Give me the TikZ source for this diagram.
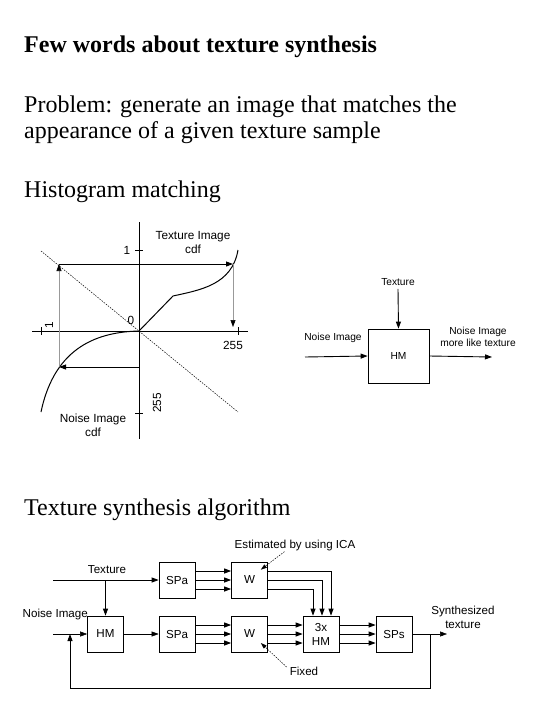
\documentclass[tikz,border=0pt]{standalone}
\usepackage{fontspec}
\setmainfont{Liberation Serif}
\newfontfamily\dgfont{Liberation Sans}
\usetikzlibrary{arrows.meta,positioning,calc}
\tikzset{
  heading/.style={anchor=base west, inner sep=0pt, font=\fontsize{24}{27}\selectfont},
  lbl/.style={inner sep=0pt, align=center, font=\dgfont\fontsize{11.6}{14}\selectfont},
  cdflbl/.style={lbl, font=\dgfont\fontsize{11.8}{14}\selectfont},
  hmlbl/.style={lbl, font=\dgfont\fontsize{10.2}{12}\selectfont},
  blk/.style={draw, line width=0.7pt, fill=white, minimum width=36pt,
    minimum height=36pt, inner sep=0pt, lbl},
  flow/.style={-{Triangle[length=7pt,width=5pt]}, line width=0.9pt},
  feed/.style={-{Triangle[length=7pt,width=5pt]}, line width=0.5pt},
  guide/.style={-{Triangle[length=7pt,width=5pt,color=black]}, draw=black!40, line width=0.6pt},
  hint/.style={-{Triangle[length=6pt,width=4pt]}, dash pattern=on 1.5pt off 1.2pt, line width=0.5pt},
  axis/.style={line width=0.7pt},
  cdf/.style={line width=1pt},
}
\begin{document}
\begin{tikzpicture}[x=1pt, y=-1pt]
  \useasboundingbox[fill=white] (0,0) rectangle (540,720);
  % headings
  \node[heading, font=\bfseries\fontsize{24}{27}\selectfont] (title) at (24,52) {Few words about texture synthesis};
  \node[heading] (prob1) at (24,112) {Problem: generate an image that matches the};
  \node[heading] (prob2) at (24,138) {appearance of a given texture sample};
  \node[heading] (histo) at (24,197) {Histogram matching};
  \node[heading] (algo)  at (24,515) {Texture synthesis algorithm};

  % cdf plot
  \coordinate (o) at (139,331);
  \draw[axis] (139,222) -- (139,439);
  \draw[axis] (32,331) -- (248,331);
  \draw[axis] (135,250) -- (143,250);
  \draw[axis] (41,327) -- (41,335);
  \draw[axis] (238,327) -- (238,335);
  \draw[axis] (135,413) -- (143,413);
  \node[cdflbl] (yone)  at (127,250) {1};
  \node[cdflbl, rotate=90] (xone) at (49,325) {1};
  \node[cdflbl] (zero)  at (131,320) {0};
  \node[cdflbl] (tmax)  at (233,345) {255};
  \node[cdflbl, rotate=90] (nmax) at (157,403) {255};
  \node[cdflbl] (tcdf)  at (193,242) {Texture Image\\cdf};
  \node[cdflbl] (ncdf)  at (93,425) {Noise Image\\cdf};
  \draw[dash pattern=on 1.5pt off 1.2pt, line width=0.5pt] (41,251) -- (238,412);
  % texture cdf
  \draw[cdf] (o) -- (173,296) .. controls (200,290) and (232,285) .. (238,250);
  % noise cdf
  \draw[cdf] (o) .. controls (100,332) and (55,345) .. (41,412);
  \coordinate (tup) at (59,264);
  \coordinate (tend) at (233,264);
  \coordinate (nlow) at (59,367);
  \coordinate (naxis) at (139,367);
  \coordinate (tdown) at (233,327);
  \draw[flow] (tup) -- (tend);
  \draw[guide] (nlow) -- (tup);
  \draw[guide] (tend) -- (tdown);
  \draw[flow] (naxis) -- (nlow);

  % HM block
  \node[blk, hmlbl, minimum width=61pt, minimum height=54pt] (hm) at (398.5,356) {HM};
  \node[hmlbl] (tex) at (398,282) {Texture};
  \node[hmlbl] (noisein) at (333,338) {Noise Image};
  \node[hmlbl] (nlike) at (478,337) {Noise Image\\more like texture};
  \coordinate (nin) at (305,357);
  \coordinate (nout) at (492,357);
  \draw[flow] ([yshift=-3pt]tex.south) -- (hm.north);
  \draw[flow] (nin) -- (hm.west);
  \draw[flow] (hm.east) -- (nout);

  % algorithm
  \node[blk] (spa1) at (177,580) {SPa};
  \node[blk] (w1)   at (249.5,580) {W};
  \node[blk] (hm2)  at (105.5,634) {HM};
  \node[blk] (spa2) at (177,634) {SPa};
  \node[blk] (w2)   at (249.5,634) {W};
  \node[blk] (hm3)  at (321,634) {3x\\HM};
  \node[blk] (sps)  at (394,634) {SPs};
  \node[lbl] (texin) at (107,570) {Texture};
  \node[lbl, anchor=south east] (noise2) at (88,620) {Noise Image};
  \node[lbl] (ica)   at (295,545) {Estimated by using ICA};
  \node[lbl] (fixed) at (304,671) {Fixed};
  \node[lbl] (synth) at (463,617) {Synthesized\\texture};
  \coordinate (tin)  at (53,580);
  \coordinate (nin2) at (53,634);
  \coordinate (tj)   at (hm2.north |- tin);
  \coordinate (sout) at (447,634);
  \coordinate (fb)   at (430,634);
  \coordinate (fbin) at (70,634);
  \draw[flow] (tin) -- (spa1);
  \draw[flow] (tj) -- (hm2);
  \draw[feed] (nin2) -- (hm2);
  \draw[feed] (hm2) -- (spa2);
  \foreach \dy in {-9,0,9}{
    \draw[flow] ($(spa1.east)+(0,\dy)$) -- ($(w1.west)+(0,\dy)$);
    \draw[flow] ($(spa2.east)+(0,\dy)$) -- ($(w2.west)+(0,\dy)$);
    \draw[flow] ($(w2.east)+(0,\dy)$) -- ($(hm3.west)+(0,\dy)$);
    \draw[flow] ($(hm3.east)+(0,\dy)$) -- ($(sps.west)+(0,\dy)$);
  }
  \foreach \dy/\dx in {-9/10,0/1,9/-8}
    \draw[flow] ($(w1.east)+(0,\dy)$) -| ($(hm3.north)+(\dx,0)$);
  \draw[feed] (sps) -- (sout);
  \draw[flow] (fb) -- ++(0,54) -| (fbin);
  \draw[hint] ($(ica.south west)+(50,1)$) -- ($(w1.north east)+(-7,8)$);
  \draw[hint] ($(fixed.west)+(-3,-4)$) -- ($(w2.east)+(-7,9)$);
\end{tikzpicture}
\end{document}
